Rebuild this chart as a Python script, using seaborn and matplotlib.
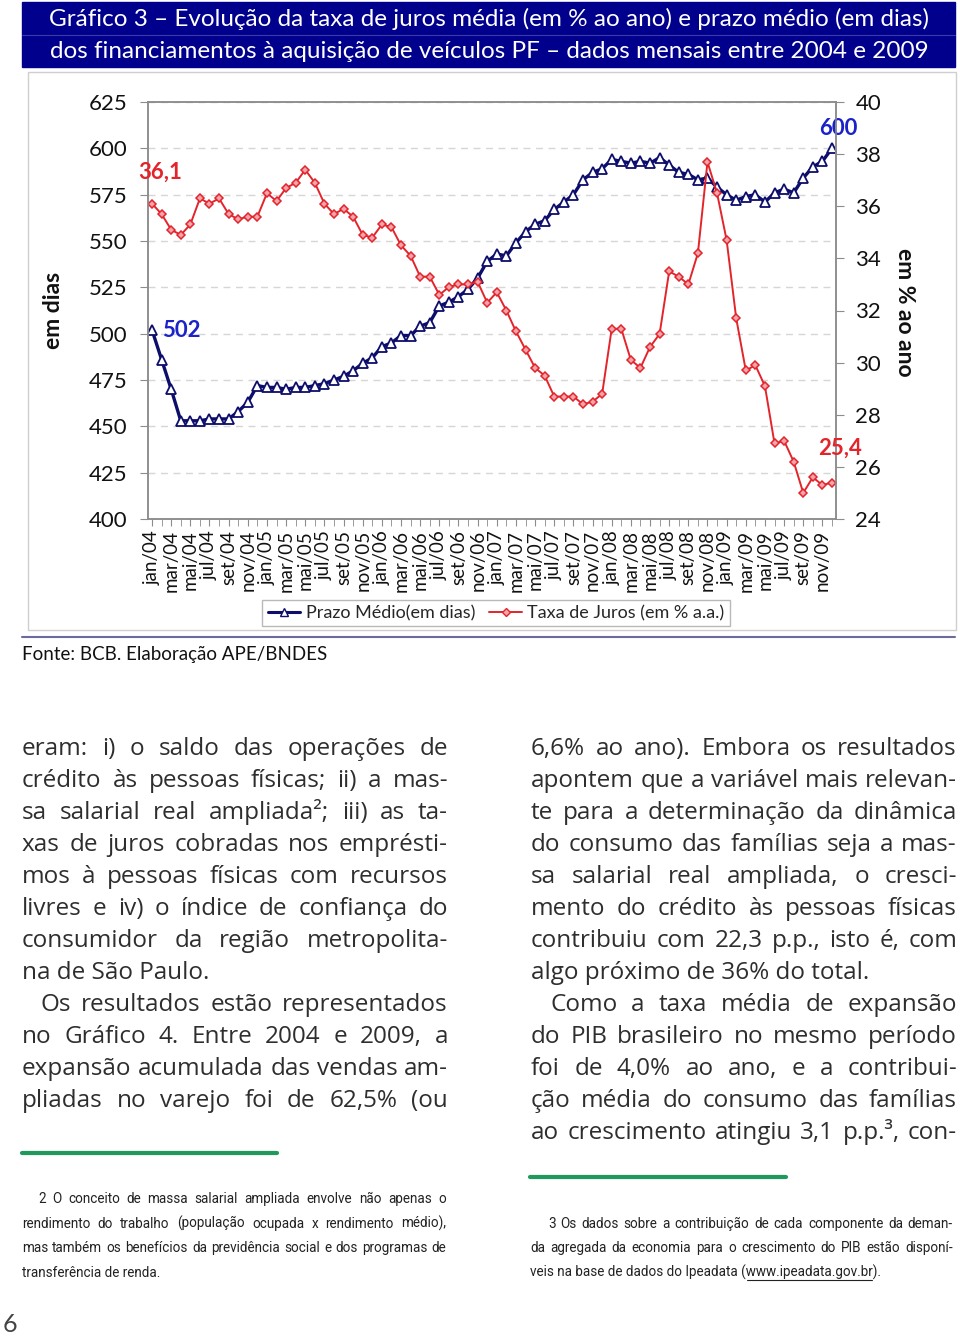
import matplotlib
matplotlib.use('Agg')
import matplotlib.pyplot as plt
from matplotlib.lines import Line2D
from matplotlib.patches import Rectangle
from matplotlib.font_manager import FontProperties, fontManager
import seaborn as sns

# ---- data, jan/04 .. dez/09 ----
prazo = [502, 486, 470, 453, 453, 453, 454, 454, 454, 458,
         463, 472, 471, 471, 470, 471, 471, 472, 473, 475,
         477, 480, 484, 487, 493, 495, 499, 499, 504, 506,
         515, 517, 520, 524, 530, 539, 543, 542, 549, 555,
         559, 561, 567, 571, 575, 583, 587, 589, 594, 593,
         592, 593, 592, 595, 591, 587, 586, 583, 584, 579,
         575, 572, 574, 575, 571, 576, 578, 576, 584, 590,
         593, 600]
taxa = [36.1, 35.7, 35.1, 34.9, 35.3, 36.3, 36.1, 36.3, 35.7, 35.5,
        35.6, 35.6, 36.5, 36.2, 36.7, 36.9, 37.4, 36.9, 36.1, 35.7,
        35.9, 35.6, 34.9, 34.8, 35.3, 35.2, 34.5, 34.1, 33.3, 33.3,
        32.6, 32.9, 33.0, 33.0, 33.1, 32.3, 32.7, 32.0, 31.2, 30.5,
        29.8, 29.5, 28.7, 28.7, 28.7, 28.4, 28.5, 28.8, 31.3, 31.3,
        30.1, 29.8, 30.6, 31.1, 33.5, 33.3, 33.0, 34.2, 37.7, 36.5,
        34.7, 31.7, 29.7, 29.9, 29.1, 26.9, 27.0, 26.2, 25.0, 25.6,
        25.3, 25.4]
meses = ['jan', 'fev', 'mar', 'abr', 'mai', 'jun',
         'jul', 'ago', 'set', 'out', 'nov', 'dez']
anos = ['04', '05', '06', '07', '08', '09']
periodos = [f'{m}/{a}' for a in anos for m in meses]

nome_prazo = 'Prazo Médio(em dias)'
nome_taxa = 'Taxa de Juros (em % a.a.)'

AZUL = '#0d0d6b'
VERMELHO = '#e3242b'

sns.set_style('white')
plt.rcParams['font.family'] = ['Lato', 'DejaVu Sans']

W, H = 960, 1337
fig = plt.figure(figsize=(W / 100, H / 100), dpi=100)


def fx(px):
    return px / W


def fy(py):
    return 1 - py / H


# title banner
fig.patches.append(Rectangle((fx(22), fy(67)), fx(955) - fx(22), fy(2) - fy(67),
                             transform=fig.transFigure, color='#00008c', zorder=0))
fig.lines.append(Line2D([fx(22), fx(955)], [fy(35), fy(35)], transform=fig.transFigure,
                        color='#3a3aa8', lw=0.8))
fig.text(fx(489), fy(19), 'Gráfico 3 – Evolução da taxa de juros média (em % ao ano) e prazo médio (em dias)',
         color='white', fontsize=17.5, ha='center', va='center')
fig.text(fx(489), fy(51), 'dos financiamentos à aquisição de veículos PF – dados mensais entre 2004 e 2009',
         color='white', fontsize=17.5, ha='center', va='center')

# chart frame
fig.patches.append(Rectangle((fx(28), fy(630)), fx(956) - fx(28), fy(72) - fy(630),
                             transform=fig.transFigure, fill=False, edgecolor='#cfcfcf', lw=1))
fig.lines.append(Line2D([fx(22), fx(955)], [fy(637), fy(637)], transform=fig.transFigure,
                        color='#6c6c9c', lw=1.5))

# ---- chart ----
ax = fig.add_axes([fx(148), fy(519), fx(836) - fx(148), fy(102) - fy(519)])
idx = list(range(len(periodos)))

sns.lineplot(x=idx, y=prazo, ax=ax, color=AZUL, lw=2.4, marker='^', markersize=7,
             markerfacecolor='white', markeredgecolor=AZUL, markeredgewidth=1.3, legend=False)
ax.set_ylim(400, 625)
ax.set_yticks(range(400, 626, 25))
ax.set_xlim(-0.42, len(idx) - 1 + 0.42)
ax.set_xticks(idx[::2])
ax.set_xticklabels(periodos[::2], rotation=90)
ax.set_xticks(idx, minor=True)
ax.yaxis.grid(True, ls=(0, (5, 4)), color='#d6d6d6', lw=1)
ax.set_axisbelow(True)
ax.set_xlabel('')
ax.set_ylabel('')
ax.tick_params(axis='y', direction='out', length=6, color='#8c8c8c', pad=9,
               labelsize=16, labelcolor='#111111', left=True)
ax.tick_params(axis='x', which='both', direction='out', length=5, color='#8c8c8c',
               pad=3, labelsize=13.5, labelcolor='#111111', bottom=True)

ax2 = ax.twinx()
sns.lineplot(x=idx, y=taxa, ax=ax2, color=VERMELHO, lw=1.4, marker='D', markersize=4.5,
             markerfacecolor='#f6a3ab', markeredgecolor=VERMELHO, markeredgewidth=1.1, legend=False)
ax2.set_ylim(24, 40)
ax2.set_yticks(range(24, 41, 2))
ax2.set_ylabel('')
ax2.tick_params(axis='y', direction='out', length=6, color='#8c8c8c', pad=8,
                labelsize=16, labelcolor='#111111', right=True)

for a in (ax, ax2):
    for s in a.spines.values():
        s.set_color('#8c8c8c')
        s.set_linewidth(1.1)


# value labels at the ends of the series
def fmt(v):
    return f'{v:.1f}'.replace('.', ',')


ax2.annotate(fmt(taxa[0]), xy=(idx[0], taxa[0]), xytext=(8, 31), textcoords='offset pixels',
             color=VERMELHO, fontsize=16, fontweight='bold', ha='center', va='center')
ax2.annotate(fmt(taxa[-1]), xy=(idx[-1], taxa[-1]), xytext=(8, 34), textcoords='offset pixels',
             color=VERMELHO, fontsize=16, fontweight='bold', ha='center', va='center')
ax.annotate(str(prazo[0]), xy=(idx[0], prazo[0]), xytext=(29, -1), textcoords='offset pixels',
            color='#1a22c8', fontsize=16, fontweight='bold', ha='center', va='center')
ax.annotate(str(prazo[-1]), xy=(idx[-1], prazo[-1]), xytext=(6, 20), textcoords='offset pixels',
            color='#1a22c8', fontsize=16, fontweight='bold', ha='center', va='center')

fig.text(fx(53), fy(310), 'em dias', rotation=90, fontsize=16.5, fontweight='bold',
         ha='center', va='center', color='#111111')
fig.text(fx(905), fy(312), 'em % ao ano', rotation=-90, fontsize=16.5, fontweight='bold',
         ha='center', va='center', color='#111111')

handles = [Line2D([], [], color=AZUL, lw=2.2, marker='^', markersize=6,
                  markerfacecolor='white', markeredgecolor=AZUL),
           Line2D([], [], color=VERMELHO, lw=1.4, marker='D', markersize=4,
                  markerfacecolor='#f6a3ab', markeredgecolor=VERMELHO)]
fig.legend(handles, [nome_prazo, nome_taxa], loc='center', bbox_to_anchor=(fx(496), fy(613)),
           ncol=2, frameon=True, fancybox=False, edgecolor='#a8a8a8', fontsize=13,
           handlelength=1.8, handletextpad=0.3, columnspacing=0.8, borderpad=0.3)

fig.text(fx(22), fy(655), 'Fonte: BCB. Elaboração APE/BNDES', fontsize=13.5,
         ha='left', va='center', color='#111111')

# ---- body text (justified, two columns) ----
renderer = fig.canvas.get_renderer()
installed = {f.name for f in fontManager.ttflist}
CORPO = 'Open Sans' if 'Open Sans' in installed else 'DejaVu Sans'
NOTA = next(f for f in ['Liberation Sans Narrow', 'Roboto', 'Liberation Sans', 'DejaVu Sans']
            if f in installed)


def width(s, family, size):
    prop = FontProperties(family=family, size=size)
    return renderer.get_text_width_height_descent(s, prop, ismath=False)[0]


def put_line(text, x0, x1, y, family, size, color, justify):
    if not justify:
        fig.text(fx(x0), fy(y), text, family=family, fontsize=size, color=color,
                 ha='left', va='baseline')
        return
    words = text.split(' ')
    widths = [width(w, family, size) for w in words]
    gap = (x1 - x0 - sum(widths)) / max(len(words) - 1, 1)
    x = x0
    for w, wd in zip(words, widths):
        fig.text(fx(x), fy(y), w, family=family, fontsize=size, color=color,
                 ha='left', va='baseline')
        x += wd + gap


def fit_size(lines, x0, x1, family, start, min_gap):
    size = start
    while size > 6:
        ok = True
        for t, ind, j in lines:
            words = t.split(' ')
            need = sum(width(w, family, size) for w in words) + min_gap * (len(words) - 1)
            if need > x1 - x0 - ind:
                ok = False
                break
        if ok:
            return size
        size -= 0.25
    return size


col_esq = [
    ('eram: i) o saldo das operações de', 0, True),
    ('crédito às pessoas físicas; ii) a mas-', 0, True),
    ('sa salarial real ampliada²; iii) as ta-', 0, True),
    ('xas de juros cobradas nos emprésti-', 0, True),
    ('mos à pessoas físicas com recursos', 0, True),
    ('livres e iv) o índice de confiança do', 0, True),
    ('consumidor da região metropolita-', 0, True),
    ('na de São Paulo.', 0, False),
    ('Os resultados estão representados', 18, True),
    ('no Gráfico 4. Entre 2004 e 2009, a', 0, True),
    ('expansão acumulada das vendas am-', 0, True),
    ('pliadas no varejo foi de 62,5% (ou', 0, True),
]
col_dir = [
    ('6,6% ao ano). Embora os resultados', 0, True),
    ('apontem que a variável mais relevan-', 0, True),
    ('te para a determinação da dinâmica', 0, True),
    ('do consumo das famílias seja a mas-', 0, True),
    ('sa salarial real ampliada, o cresci-', 0, True),
    ('mento do crédito às pessoas físicas', 0, True),
    ('contribuiu com 22,3 p.p., isto é, com', 0, True),
    ('algo próximo de 36% do total.', 0, False),
    ('Como a taxa média de expansão', 19, True),
    ('do PIB brasileiro no mesmo período', 0, True),
    ('foi de 4,0% ao ano, e a contribui-', 0, True),
    ('ção média do consumo das famílias', 0, True),
    ('ao crescimento atingiu 3,1 p.p.³, con-', 0, True),
]
CORPO_SIZE = fit_size(col_esq + col_dir, 531, 957, CORPO, 18, 6)
for i, (t, ind, j) in enumerate(col_esq):
    put_line(t, 22 + ind, 448, 755 + 32 * i, CORPO, CORPO_SIZE, '#2e2e2e', j)
for i, (t, ind, j) in enumerate(col_dir):
    put_line(t, 531 + ind, 957, 755 + 32 * i, CORPO, CORPO_SIZE, '#2e2e2e', j)

# footnotes
fig.lines.append(Line2D([fx(22), fx(277)], [fy(1153), fy(1153)], transform=fig.transFigure,
                        color='#1f9a5c', lw=3))
fig.lines.append(Line2D([fx(530), fx(786)], [fy(1177), fy(1177)], transform=fig.transFigure,
                        color='#1f9a5c', lw=3))

nota_esq = [
    ('2 O conceito de massa salarial ampliada envolve não apenas o', 16, True),
    ('rendimento do trabalho (população ocupada x rendimento médio),', 0, True),
    ('mas também os benefícios da previdência social e dos programas de', 0, True),
    ('transferência de renda.', 0, False),
]
nota_dir = [
    ('3 Os dados sobre a contribuição de cada componente da deman-', 18, True),
    ('da agregada da economia para o crescimento do PIB estão disponí-', 0, True),
    ('veis na base de dados do Ipeadata (www.ipeadata.gov.br).', 0, False),
]
NOTA_SIZE = fit_size(nota_esq + nota_dir, 530, 953, NOTA, 12.5, 4)
for i, (t, ind, j) in enumerate(nota_esq):
    put_line(t, 22 + ind, 446, 1203 + 24.6 * i, NOTA, NOTA_SIZE, '#222222', j)
for i, (t, ind, j) in enumerate(nota_dir):
    put_line(t, 530 + ind, 953, 1227.6 + 24.6 * i, NOTA, NOTA_SIZE, '#222222', j)

# underline the link in the last footnote line
ultima = nota_dir[-1][0]
ini = ultima.index('www')
fim = ultima.index(')', ini)
xa = 530 + width(ultima[:ini], NOTA, NOTA_SIZE)
xb = 530 + width(ultima[:fim], NOTA, NOTA_SIZE)
yb = 1227.6 + 24.6 * 2 + 3
fig.lines.append(Line2D([fx(xa + 1), fx(xb - 1)], [fy(yb), fy(yb)], transform=fig.transFigure,
                        color='#222222', lw=0.8))

fig.text(fx(3), fy(1325), '6', fontsize=18, ha='left', va='center', color='#444444')

fig.savefig('out.png', dpi=100)
